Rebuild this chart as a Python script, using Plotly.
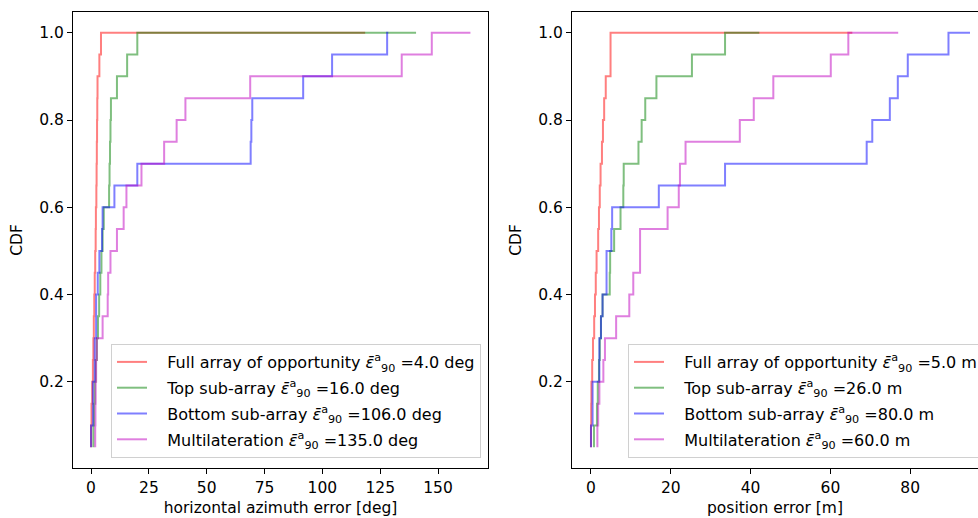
import plotly.graph_objects as go

# CDF levels (20 samples)
cdf_levels = [0.05, 0.10, 0.15, 0.20, 0.25, 0.30, 0.35, 0.40, 0.45, 0.50,
              0.55, 0.60, 0.65, 0.70, 0.75, 0.80, 0.85, 0.90, 0.95, 1.00]

# Left panel: horizontal azimuth error [deg] (sorted samples)
left_full = [0.0, 0.2, 0.5, 0.8, 1.0, 1.2, 1.4, 1.6, 1.8, 2.0,
             2.1, 2.3, 2.4, 2.5, 2.6, 2.7, 2.8, 3.6, 4.3, 118.5]
left_top = [1.0, 1.3, 1.6, 2.0, 2.5, 3.0, 3.5, 4.0, 4.5, 5.0,
            5.5, 7.8, 8.0, 8.2, 8.4, 8.6, 11.2, 15.6, 20.0, 140.5]
left_bottom = [0.0, 0.8, 0.8, 1.6, 1.6, 2.2, 2.2, 2.9, 3.6, 4.75,
               5.0, 10.1, 20.0, 69.0, 69.3, 69.7, 91.7, 104.2, 128.0, 128.5]
left_multi = [1.8, 1.9, 2.0, 2.2, 2.5, 5.0, 7.2, 7.4, 8.4, 11.2,
              14.1, 15.3, 21.8, 31.6, 37.0, 40.8, 68.8, 134.3, 147.3, 164.0]

# Right panel: position error [m] (sorted samples)
right_full = [0.0, 0.05, 0.1, 0.3, 0.5, 0.8, 1.0, 1.2, 1.4, 1.8,
              2.0, 2.2, 2.4, 2.75, 3.0, 3.3, 3.7, 4.9, 4.9, 65.5]
right_top = [0.75, 1.5, 1.7, 2.0, 2.2, 2.5, 2.9, 4.7, 4.8, 5.8,
             7.4, 8.1, 8.2, 11.9, 12.7, 13.6, 16.4, 25.3, 33.6, 42.2]
right_bottom = [0.0, 0.4, 0.4, 2.1, 2.1, 2.5, 2.9, 3.9, 3.9, 5.1,
                5.3, 17.0, 33.6, 69.1, 70.5, 74.9, 76.9, 79.4, 89.6, 95.0]
right_multi = [1.6, 1.8, 2.1, 3.1, 3.5, 6.3, 9.6, 10.6, 12.3, 12.3,
               19.2, 22.0, 22.3, 23.7, 37.3, 40.8, 45.7, 60.1, 64.5, 77.0]

series_names = ["Full array of opportunity", "Top sub-array",
                "Bottom sub-array", "Multilateration"]
left_e90 = [4.0, 16.0, 106.0, 135.0]
right_e90 = [5.0, 26.0, 80.0, 60.0]
left_unit = "deg"
right_unit = "m"

colors = ["rgba(255,0,0,0.5)", "rgba(0,128,0,0.5)",
          "rgba(0,0,255,0.5)", "rgba(191,0,191,0.5)"]

FONT = "DejaVu Sans"
FS = 15.5
LFS = 16

fig = go.Figure()

left_data = [left_full, left_top, left_bottom, left_multi]
right_data = [right_full, right_top, right_bottom, right_multi]

pad = "\u00a0\u00a0\u00a0"
for i, (vals, name, e, col) in enumerate(zip(left_data, series_names, left_e90, colors)):
    fig.add_trace(go.Scatter(
        x=vals, y=cdf_levels, mode="lines", line=dict(color=col, width=2, shape="vh"),
        name=f"{pad}{name} <i>ε̄</i><sup>a</sup><sub>90</sub> ={e:.1f} {left_unit}",
        xaxis="x", yaxis="y", legend="legend", legendgroup=f"l{i}"))

for i, (vals, name, e, col) in enumerate(zip(right_data, series_names, right_e90, colors)):
    fig.add_trace(go.Scatter(
        x=vals, y=cdf_levels, mode="lines", line=dict(color=col, width=2, shape="vh"),
        name=f"{pad}{name} <i>ε̄</i><sup>a</sup><sub>90</sub> ={e:.1f} {right_unit}",
        xaxis="x2", yaxis="y2", legend="legend2", legendgroup=f"r{i}"))

L, R, T, B = 73, 0, 12, 50
W, H = 978, 518
pw = W - L - R
ph = H - T - B

def px_to_paper_x(px):
    return (px - L) / pw

def px_to_paper_y(py):
    return (H - B - py) / ph

axis_common = dict(
    showgrid=False, zeroline=False, showline=True, linecolor="black", linewidth=1,
    ticks="outside", ticklen=5, tickwidth=1, tickcolor="black",
    tickfont=dict(family=FONT, size=FS, color="black"),
)

legend_common = dict(
    xanchor="left", yanchor="bottom",
    bgcolor="white", bordercolor="#d0d0d0", borderwidth=1,
    font=dict(family=FONT, size=LFS, color="black"),
    itemwidth=30, tracegroupgap=2, traceorder="grouped",
)

fig.update_layout(
    width=W, height=H,
    margin=dict(l=L, r=R, t=T, b=B, autoexpand=False),
    paper_bgcolor="white", plot_bgcolor="white",
    font=dict(family=FONT, size=FS, color="black"),
    xaxis=dict(domain=[0, px_to_paper_x(488)], range=[-7.8, 171.6],
               tickvals=[0, 25, 50, 75, 100, 125, 150], mirror=True,
               title=dict(text="horizontal azimuth error [deg]", font=dict(family=FONT, size=FS), standoff=6),
               anchor="y", **axis_common),
    yaxis=dict(domain=[0, 1], range=[0.0025, 1.0475],
               tickvals=[0.2, 0.4, 0.6, 0.8, 1.0], ticktext=["0.2", "0.4", "0.6", "0.8", "1.0"],
               mirror=True, anchor="x",
               title=dict(text="CDF", font=dict(family=FONT, size=FS), standoff=12),
               **axis_common),
    xaxis2=dict(domain=[px_to_paper_x(572), 1.0], range=[-4.76, 97.0],
                tickvals=[0, 20, 40, 60, 80], mirror=True, anchor="y2",
                title=dict(text="position error [m]", font=dict(family=FONT, size=FS), standoff=6),
                **axis_common),
    yaxis2=dict(domain=[0, 1], range=[0.0025, 1.0475],
                tickvals=[0.2, 0.4, 0.6, 0.8, 1.0], ticktext=["0.2", "0.4", "0.6", "0.8", "1.0"],
                mirror=False, anchor="x2",
                title=dict(text="CDF", font=dict(family=FONT, size=FS), standoff=12),
                **axis_common),
    legend=dict(x=px_to_paper_x(111), y=px_to_paper_y(458), **legend_common),
    legend2=dict(x=px_to_paper_x(628), y=px_to_paper_y(458), **legend_common),
    showlegend=True,
)

fig.write_html("out.html", config={"displayModeBar": False},
               post_script="document.body.style.margin='0';")
